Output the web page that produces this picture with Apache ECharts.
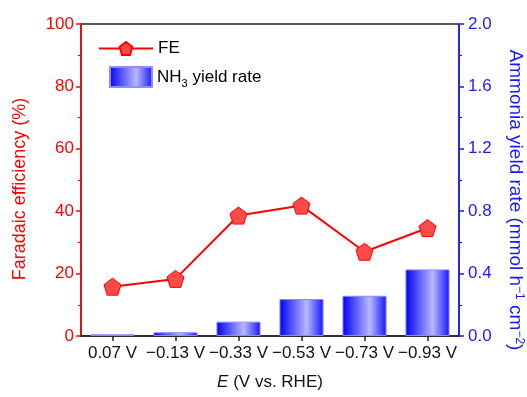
<!DOCTYPE html>
<html>
<head>
<meta charset="utf-8">
<script src="https://cdn.jsdelivr.net/npm/echarts@6/dist/echarts.min.js"></script>
<style>
  html, body { margin: 0; padding: 0; background: #fff; }
  #chart { width: 527px; height: 397px; }
</style>
</head>
<body>
<div id="chart"></div>
<script>
// Applied potentials (V vs. RHE)
const potentials = ['0.07 V', '\u22120.13 V', '\u22120.33 V', '\u22120.53 V', '\u22120.73 V', '\u22120.93 V'];
// Faradaic efficiency (%)
const faradaicEfficiency = [15.8, 18.3, 38.6, 41.8, 27.0, 34.6];
// Ammonia yield rate (mmol h^-1 cm^-2)
const yieldRate = [0.011, 0.024, 0.092, 0.237, 0.258, 0.427];
// Axis ticks
const feTicks = { min: 0, max: 100, interval: 20 };
const rateTicks = { min: 0, max: 2.0, interval: 0.4 };

const FONT = '"Liberation Sans", Arial, sans-serif';
const RED = '#ff0000';
const BLUE = '#1a1aff';
const pentagon = 'path://M0,-1 L0.951,-0.309 L0.588,0.809 L-0.588,0.809 L-0.951,-0.309 Z';

const barGradient = new echarts.graphic.LinearGradient(0, 0, 1, 0, [
  { offset: 0, color: '#0000f5' },
  { offset: 0.62, color: '#b8b8ff' },
  { offset: 1, color: '#1414ff' }
]);

const chart = echarts.init(document.getElementById('chart'), null, { renderer: 'canvas' });

chart.setOption({
  animation: false,
  textStyle: { fontFamily: FONT },
  grid: {
    left: 81, right: 68, top: 24, bottom: 61,
    containLabel: false,
    outerBoundsMode: 'none',
    show: true, borderColor: '#222', borderWidth: 1.5, backgroundColor: 'transparent'
  },
  legend: [
    {
      data: ['FE'],
      left: 93, top: 35,
      itemWidth: 54, itemHeight: 16,
      textStyle: { fontFamily: FONT, fontSize: 17, color: '#000' }
    },
    {
      data: [{ name: 'NH3', icon: 'rect' }],
      left: 104, top: 61,
      itemWidth: 42, itemHeight: 20,
      formatter: () => '{a|NH}{s|3}{a| yield rate}',
      textStyle: {
        fontFamily: FONT, fontSize: 17, color: '#000',
        rich: {
          a: { fontFamily: FONT, fontSize: 17, color: '#000', lineHeight: 24, verticalAlign: 'middle' },
          s: { fontFamily: FONT, fontSize: 11, color: '#000', lineHeight: 11, verticalAlign: 'bottom' }
        }
      }
    }
  ],
  xAxis: {
    type: 'category',
    data: potentials,
    boundaryGap: true,
    axisLine: { lineStyle: { color: '#222', width: 1.5 } },
    axisTick: { show: true, alignWithLabel: true, length: 5, lineStyle: { color: '#222', width: 1.5 } },
    axisLabel: { color: '#111', fontSize: 17, fontFamily: FONT, margin: 9, interval: 0 },
    name: '{i|E} (V vs. RHE)',
    nameLocation: 'middle',
    nameGap: 38,
    nameTextStyle: {
      color: '#111', fontSize: 17, fontFamily: FONT,
      rich: {
        i: { fontStyle: 'italic', fontSize: 17, fontFamily: FONT, color: '#111' }
      }
    }
  },
  yAxis: [
    {
      type: 'value',
      position: 'left',
      min: feTicks.min, max: feTicks.max, interval: feTicks.interval,
      axisLine: { show: true, lineStyle: { color: RED, width: 1.5 } },
      axisTick: { show: true, length: 5, lineStyle: { color: RED, width: 1.5 } },
      minorTick: { show: true, splitNumber: 2, length: 3, lineStyle: { color: RED, width: 1.2 } },
      splitLine: { show: false },
      axisLabel: { color: RED, fontSize: 17, fontFamily: FONT, margin: 7 },
      name: 'Faradaic efficiency (%)',
      nameLocation: 'middle',
      nameGap: 52,
      nameTextStyle: { color: RED, fontSize: 18, fontFamily: FONT, padding: [0, 0, 0, -18] }
    },
    {
      type: 'value',
      position: 'right',
      min: rateTicks.min, max: rateTicks.max, interval: rateTicks.interval,
      axisLine: { show: true, lineStyle: { color: BLUE, width: 1.5 } },
      axisTick: { show: true, length: 5, lineStyle: { color: BLUE, width: 1.5 } },
      minorTick: { show: true, splitNumber: 2, length: 3, lineStyle: { color: BLUE, width: 1.2 } },
      splitLine: { show: false },
      axisLabel: {
        color: BLUE, fontSize: 17, fontFamily: FONT, margin: 9,
        formatter: v => v.toFixed(1)
      },
      name: '{a|Ammonia yield rate (mmol h}{s|\u22121}{a| cm}{s|\u22122}{a|)}',
      nameLocation: 'middle',
      nameRotate: -90,
      nameGap: 46,
      nameTextStyle: {
        color: BLUE, fontSize: 19, fontFamily: FONT,
        padding: [0, 0, 0, 40],
        rich: {
          a: { color: BLUE, fontSize: 19, fontFamily: FONT, lineHeight: 20, verticalAlign: 'middle' },
          s: { color: BLUE, fontSize: 12, fontFamily: FONT, lineHeight: 10, verticalAlign: 'top' }
        }
      }
    }
  ],
  series: [
    {
      name: 'NH3',
      type: 'bar',
      yAxisIndex: 1,
      data: yieldRate,
      barWidth: '70%',
      itemStyle: { color: barGradient, borderColor: '#8c8cff', borderWidth: 1 },
      z: 2
    },
    {
      name: 'FE',
      type: 'line',
      yAxisIndex: 0,
      data: faradaicEfficiency,
      symbol: pentagon,
      symbolSize: 17,
      lineStyle: { color: RED, width: 2 },
      itemStyle: { color: '#ff4a4a', borderColor: RED, borderWidth: 1 },
      z: 5
    }
  ]
});
</script>
</body>
</html>
